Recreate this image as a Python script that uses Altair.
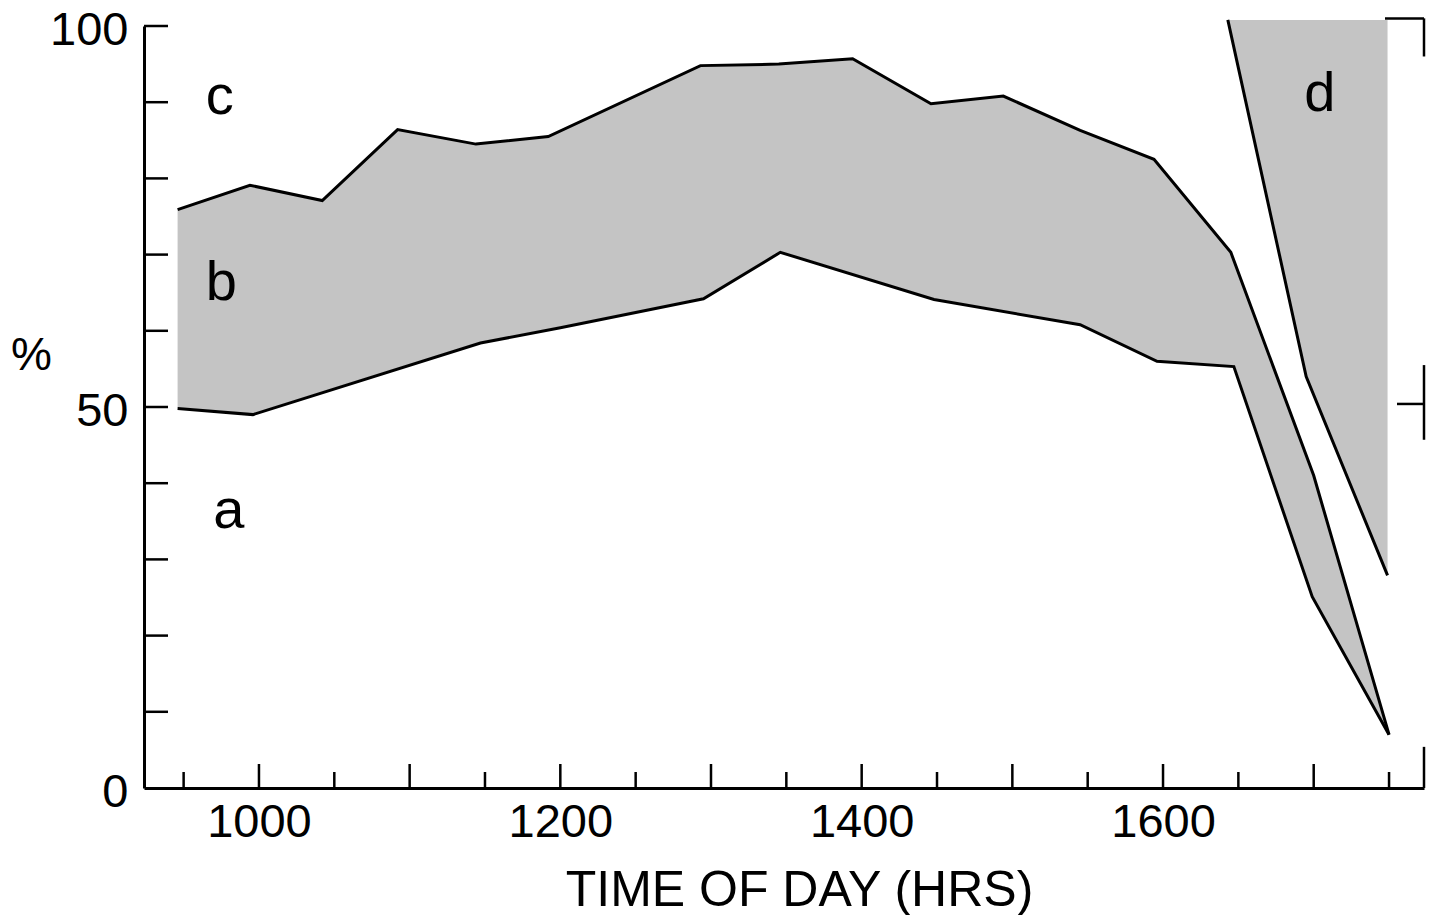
import altair as alt
import pandas as pd

# ---------------- data ----------------
# boundary between regions b and c (upper edge of the shaded band)
upper_t = [946, 994, 1042, 1092, 1144, 1192, 1293, 1345, 1394, 1446, 1494, 1545, 1594, 1645, 1700, 1750]
upper_v = [75.9, 79.1, 77.1, 86.4, 84.5, 85.5, 94.8, 95.0, 95.7, 89.8, 90.8, 86.3, 82.5, 70.3, 41.0, 7.0]

# boundary between regions a and b (lower edge of the shaded band)
lower_t = [946, 996, 1147, 1200, 1295, 1346, 1448, 1545, 1596, 1647, 1699, 1750]
lower_v = [49.8, 49.0, 58.4, 60.4, 64.2, 70.3, 64.1, 60.8, 56.0, 55.3, 25.1, 7.0]

# region d boundary
d_t = [1643, 1695, 1749]
d_v = [100.8, 54.0, 27.9]
d_top = 100.8

# axis ticks / labels
x_labels = [1000, 1200, 1400, 1600]
x_major_ticks = [1000, 1100, 1200, 1300, 1400, 1500, 1600, 1700]
x_minor_ticks = [950, 1050, 1150, 1250, 1350, 1450, 1550, 1650, 1750]
y_labels = [0, 50, 100]
y_ticks = [10, 20, 30, 40, 50, 60, 70, 80, 90, 100]

# right-hand scale marks (segments of the right axis, in %)
right_seg_from = [96.0, 45.7, 0.0]
right_seg_to = [101.0, 55.5, 5.4]
right_tick_top = [101.0]
right_tick_mid = [50.4]

# region letters
region_names = ["a", "b", "c", "d"]
region_t = [980, 975, 974, 1704]
region_v = [34.1, 64.1, 88.4, 88.9]

# ---------------- chart ----------------
W, H = 1280, 762
FONT = "Liberation Sans"
GRAY = "#c4c4c4"

upper_df = pd.DataFrame({"t": upper_t, "v": upper_v})
lower_df = pd.DataFrame({"t": lower_t, "v": lower_v})
d_df = pd.DataFrame({"t": d_t, "v": d_v})
xmaj_df = pd.DataFrame({"t": x_major_ticks})
xmin_df = pd.DataFrame({"t": x_minor_ticks})
ytick_df = pd.DataFrame({"v": y_ticks})
rseg_df = pd.DataFrame({"v": right_seg_from, "v2": right_seg_to})
rtop_df = pd.DataFrame({"v": right_tick_top})
rmid_df = pd.DataFrame({"v": right_tick_mid})
lab_df = pd.DataFrame({"name": region_names, "t": region_t, "v": region_v})

xscale = alt.Scale(domain=[923.7, 1773.2], nice=False, zero=False)
yscale = alt.Scale(domain=[0, 100], nice=False, zero=True)

xaxis = alt.Axis(
    values=x_labels, format="d", title="TIME OF DAY (HRS)",
    ticks=False, tickSize=0, grid=False,
    domainColor="black", domainWidth=3,
    labelFont=FONT, labelFontSize=47, labelColor="black", labelPadding=11,
    labelFlush=False, labelOverlap=False,
    titleFont=FONT, titleFontSize=50, titleFontWeight="normal", titleColor="black",
    titleX=655, titleY=117, titleAlign="center", titleBaseline="alphabetic",
    zindex=1,
)
yaxis = alt.Axis(
    values=y_labels, title="%",
    ticks=False, tickSize=0, grid=False,
    domainColor="black", domainWidth=3,
    labelFont=FONT, labelFontSize=47, labelColor="black", labelPadding=16,
    labelBaseline="alphabetic", labelOffset=18,
    labelFlush=False, labelOverlap=False,
    titleFont=FONT, titleFontSize=46, titleFontWeight="normal", titleColor="black",
    titleAngle=0, titleX=-113, titleY=329, titleAlign="center", titleBaseline="middle",
    zindex=1,
)

X = alt.X("t:Q", scale=xscale, axis=xaxis)
Y = alt.Y("v:Q", scale=yscale, axis=yaxis)

band_fill = alt.Chart(upper_df).mark_area(color=GRAY, opacity=1).encode(x=X, y=Y)
band_cut = alt.Chart(lower_df).mark_area(
    color="white", opacity=1, stroke="white", strokeWidth=2
).encode(x=X, y=Y)
d_fill = alt.Chart(d_df).mark_area(color=GRAY, opacity=1).encode(x=X, y=Y, y2=alt.datum(d_top))

line_style = dict(color="black", strokeWidth=3)
upper_line = alt.Chart(upper_df).mark_line(**line_style).encode(x=X, y=Y)
lower_line = alt.Chart(lower_df).mark_line(**line_style).encode(x=X, y=Y)
d_line = alt.Chart(d_df).mark_line(**line_style).encode(x=X, y=Y)

tick_style = dict(color="black", strokeWidth=2.5)
xmaj = alt.Chart(xmaj_df).mark_rule(**tick_style).encode(x=X, y=alt.value(H), y2=alt.value(H - 24))
xmin = alt.Chart(xmin_df).mark_rule(**tick_style).encode(x=X, y=alt.value(H), y2=alt.value(H - 16))
yt = alt.Chart(ytick_df).mark_rule(**tick_style).encode(y=Y, x=alt.value(0), x2=alt.value(24))

rseg = alt.Chart(rseg_df).mark_rule(**tick_style).encode(y=Y, y2="v2:Q", x=alt.value(W))
rtop = alt.Chart(rtop_df).mark_rule(**tick_style).encode(y=Y, x=alt.value(W - 39), x2=alt.value(W))
rmid = alt.Chart(rmid_df).mark_rule(**tick_style).encode(y=Y, x=alt.value(W - 27), x2=alt.value(W))

letters = alt.Chart(lab_df).mark_text(
    font=FONT, fontSize=56, align="center", baseline="alphabetic", color="black"
).encode(x=X, y=Y, text="name:N")

chart = alt.layer(
    band_fill, band_cut, d_fill,
    upper_line, lower_line, d_line,
    xmaj, xmin, yt, rseg, rtop, rmid,
    letters,
).properties(
    width=W, height=H,
    autosize=alt.AutoSizeParams(type="none"),
    padding={"left": 144, "top": 26, "right": 8, "bottom": 127},
).configure(background="white").configure_view(stroke=None)

chart.save("out.html", embed_options={"renderer": "svg", "actions": False})
